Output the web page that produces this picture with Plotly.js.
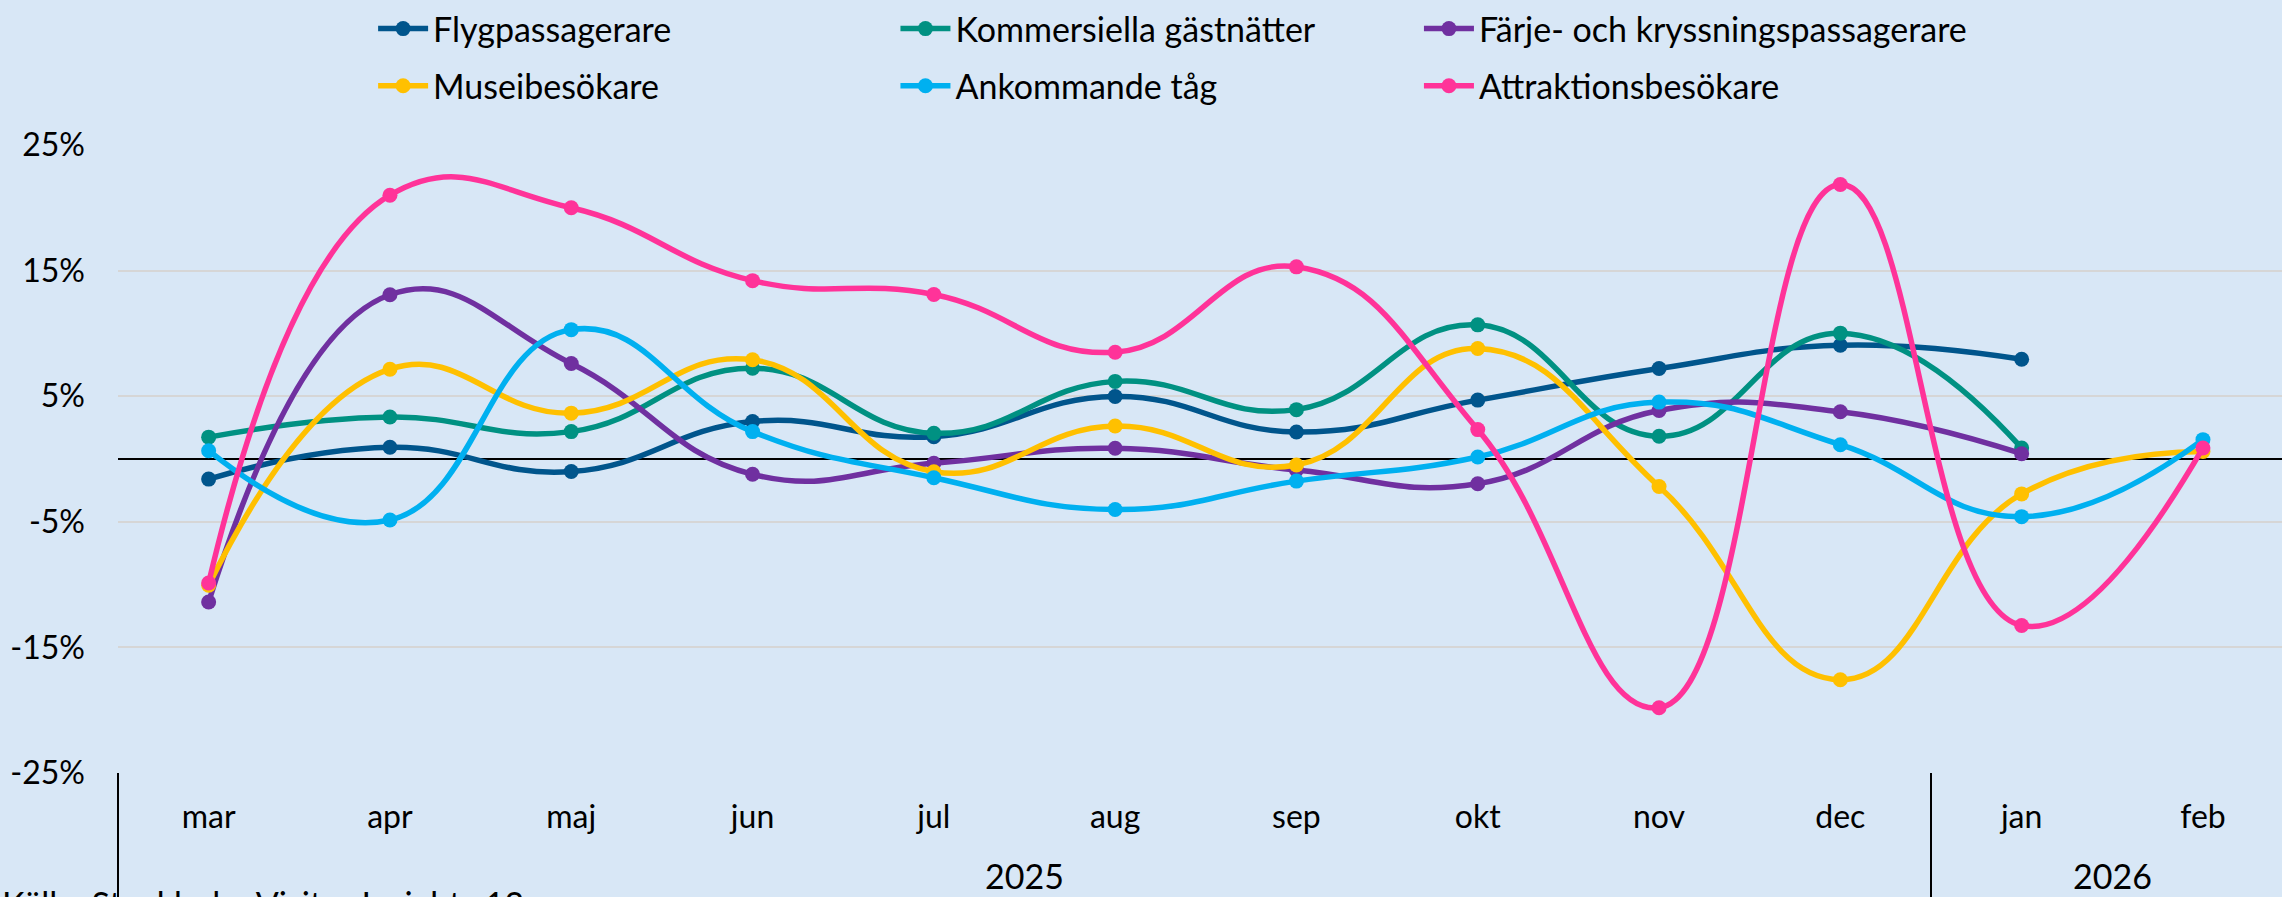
<!DOCTYPE html>
<html>
<head>
<meta charset="utf-8">
<script src="https://cdn.plot.ly/plotly-3.0.1.min.js"></script>
<style>
  html, body { margin: 0; padding: 0; background: #D8E7F6; }
  #chart { width: 2282px; height: 897px; }
</style>
</head>
<body>
<div id="chart"></div>
<script>
// Categories (months), Mar 2025 – Feb 2026
const months = ['mar', 'apr', 'maj', 'jun', 'jul', 'aug', 'sep', 'okt', 'nov', 'dec', 'jan', 'feb'];
const yearLabels = ['2025', '2026'];

// Series values (% change)
const flygpassagerare   = [-1.6, 0.93, -1.0, 2.98, 1.78, 4.98, 2.15, 4.69, 7.2, 9.06, 7.94, null];
const kommersiella      = [1.74, 3.34, 2.18, 7.23, 2.05, 6.18, 3.93, 10.68, 1.81, 10.02, 0.88, null];
const farjeKryssning    = [-11.38, 13.08, 7.6, -1.22, -0.34, 0.85, -0.88, -1.97, 3.86, 3.76, 0.42, null];
const museibesokare     = [-10.05, 7.15, 3.65, 7.9, -1.01, 2.63, -0.48, 8.8, -2.19, -17.57, -2.78, 0.6];
const ankommandeTag     = [0.66, -4.86, 10.3, 2.18, -1.49, -4.02, -1.76, 0.16, 4.53, 1.14, -4.59, 1.54];
const attraktioner      = [-9.87, 21.0, 20.0, 14.2, 13.1, 8.5, 15.3, 2.34, -19.8, 21.85, -13.26, 0.88];

const seriesNames = ['Flygpassagerare', 'Kommersiella gästnätter', 'Färje- och kryssningspassagerare',
                     'Museibesökare', 'Ankommande tåg', 'Attraktionsbesökare'];
const seriesValues = [flygpassagerare, kommersiella, farjeKryssning, museibesokare, ankommandeTag, attraktioner];
const seriesColors = ['#00558C', '#009182', '#7030A0', '#FFC000', '#00B0F0', '#FF3399'];

const yTicks = [-25, -15, -5, 5, 15, 25];

const FONT = 'Lato, "Open Sans", sans-serif';
const BG = '#D8E7F6';

const legendIds = ['legend', 'legend2', 'legend3'];

const traces = seriesValues.map((vals, i) => ({
  type: 'scatter',
  mode: 'lines+markers',
  name: seriesNames[i],
  legend: legendIds[i % 3],
  legendgroup: 'g' + i,
  x: months.map((m, k) => k),
  y: vals,
  line: { color: seriesColors[i], width: 5.5, shape: 'spline', smoothing: 1.3 },
  marker: { color: seriesColors[i], size: 15 },
  connectgaps: false
}));

const xr = [-0.5, 11.436];
const sepX = (9.5 - xr[0]) / (xr[1] - xr[0]);

const legendBase = {
  orientation: 'v',
  xref: 'container', yref: 'container',
  y: 1.0, xanchor: 'left', yanchor: 'top',
  itemwidth: 50,
  tracegroupgap: 10,
  font: { family: FONT, size: 34, color: '#000' },
  bgcolor: 'rgba(0,0,0,0)',
  traceorder: 'grouped'
};

const layout = {
  width: 2282,
  height: 897,
  paper_bgcolor: BG,
  plot_bgcolor: BG,
  margin: { l: 118, r: 0, t: 145, b: 124, pad: 0, autoexpand: false },
  font: { family: FONT, size: 32, color: '#000' },
  showlegend: true,
  legend: Object.assign({}, legendBase, { x: 0.1635 }),
  legend2: Object.assign({}, legendBase, { x: 0.3924 }),
  legend3: Object.assign({}, legendBase, { x: 0.6218 }),
  xaxis: {
    range: xr,
    tickvals: months.map((m, k) => k),
    ticktext: months,
    showgrid: false,
    zeroline: false,
    showline: false,
    ticks: '',
    ticklabelstandoff: 22,
    tickfont: { family: FONT, size: 32, color: '#000' },
    automargin: false,
    fixedrange: true
  },
  yaxis: {
    range: [-25, 25],
    tickvals: yTicks,
    ticktext: yTicks.map(v => v + '%'),
    showgrid: true,
    gridcolor: '#D6D6D6',
    gridwidth: 2,
    zeroline: true,
    zerolinecolor: '#000',
    zerolinewidth: 2,
    showline: false,
    ticks: '',
    ticklabelstandoff: 32,
    tickfont: { family: FONT, size: 32, color: '#000' },
    automargin: false,
    fixedrange: true
  },
  shapes: [
    { type: 'line', xref: 'paper', yref: 'paper', x0: 0, x1: 0, y0: 0, y1: -0.25,
      line: { color: '#000', width: 2 } },
    { type: 'line', xref: 'paper', yref: 'paper', x0: sepX, x1: sepX, y0: 0, y1: -0.25,
      line: { color: '#000', width: 2 } }
  ],
  annotations: [
    { text: yearLabels[0], xref: 'x', yref: 'paper', x: 4.5, y: -0.1625, yanchor: 'middle',
      showarrow: false, font: { family: FONT, size: 34, color: '#000' } },
    { text: yearLabels[1], xref: 'x', yref: 'paper', x: 10.5, y: -0.1625, yanchor: 'middle',
      showarrow: false, font: { family: FONT, size: 34, color: '#000' } },
    { text: 'Källa: Stockholm Visitor Insights 12', xref: 'paper', yref: 'paper',
      x: -118 / 2164, y: -0.172, xanchor: 'left', yanchor: 'top',
      showarrow: false, font: { family: FONT, size: 34, color: '#000' } }
  ]
};

Plotly.newPlot('chart', traces, layout, { displayModeBar: false, staticPlot: true });
</script>
</body>
</html>
